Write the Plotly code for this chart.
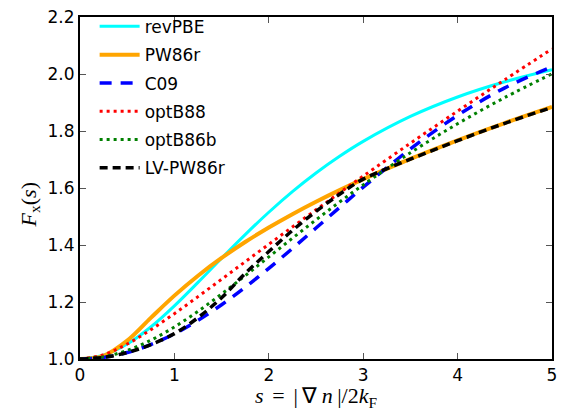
import plotly.graph_objects as go

# reduced gradient grid
s_vals = [0, 0.25, 0.5, 0.75, 1.0, 1.25, 1.5, 1.75, 2.0, 2.25, 2.5, 2.75, 3.0, 3.5, 4.0, 4.5, 5.0]

revpbe = [1.000, 1.0136, 1.0526, 1.1123, 1.1866, 1.2689, 1.3536, 1.4365, 1.5149, 1.5872,
          1.6527, 1.7114, 1.7637, 1.8510, 1.9192, 1.9726, 2.0148]
pw86r = [1.000, 1.0113, 1.0644, 1.1443, 1.2224, 1.2923, 1.3545, 1.4104, 1.4614, 1.5083,
         1.5519, 1.5927, 1.6312, 1.7024, 1.7675, 1.8279, 1.8845]
c09 = [1.000, 1.0057, 1.0227, 1.0506, 1.0885, 1.1355, 1.1904, 1.2517, 1.3181, 1.3879,
       1.4596, 1.5317, 1.6028, 1.7371, 1.8548, 1.9514, 2.0254]
optb88 = [1.000, 1.0151, 1.0526, 1.1026, 1.1591, 1.2188, 1.2798, 1.3413, 1.4025, 1.4633,
          1.5235, 1.5830, 1.6417, 1.7571, 1.8698, 1.9800, 2.0881]
optb86b = [1.000, 1.0077, 1.0301, 1.0658, 1.1124, 1.1674, 1.2282, 1.2924, 1.3581, 1.4237,
           1.4882, 1.5508, 1.6110, 1.7236, 1.8255, 1.9175, 2.0007]
lvpw86r = [1.000, 1.0057, 1.0227, 1.0506, 1.0890, 1.1450, 1.2150, 1.3000, 1.3770, 1.4510,
           1.5180, 1.5780, 1.6310, 1.7010, 1.7660, 1.8270, 1.8830]

names = ["revPBE", "PW86r", "C09", "optB88", "optB86b", "LV-PW86r"]
series = [revpbe, pw86r, c09, optb88, optb86b, lvpw86r]
colors = ["#00FFFF", "#FFA500", "#0000FF", "#FF0000", "#008000", "#000000"]
widths = [3, 4, 3.5, 3, 3, 3.5]
dashes = ["solid", "solid", "12px,9px", "3px,4px", "3px,4px", "8px,5px"]

fig = go.Figure()
for i, (nm, ys) in enumerate(zip(names, series)):
    fig.add_trace(go.Scatter(
        x=s_vals, y=ys, mode="lines", name=nm, legendgroup=nm,
        line=dict(color=colors[i], width=widths[i], dash=dashes[i], shape="spline", smoothing=1.0),
    ))

tick_font = dict(family="DejaVu Sans", size=17, color="black")
title_font = dict(family="Liberation Serif", size=22, color="black")

ts = "\u2009"
x_title = f"<i>s</i>{ts}{ts}={ts}{ts}|{ts}∇{ts}<i>n</i>{ts}|/2<i>k</i><sub>F</sub>"
y_title = "<i>F</i><sub>x</sub>(<i>s</i>)"

fig.update_layout(
    width=561, height=411,
    margin=dict(l=80, r=9, t=14, b=52),
    paper_bgcolor="white", plot_bgcolor="white",
    showlegend=True,
    legend=dict(x=0.031, y=1.024, xanchor="left", yanchor="top",
                font=dict(family="DejaVu Sans", size=17, color="black"),
                bgcolor="rgba(0,0,0,0)", borderwidth=0, tracegroupgap=3.2,
                itemwidth=40),
    xaxis=dict(range=[0, 5], tickvals=[0, 1, 2, 3, 4, 5], ticktext=["0", "1", "2", "3", "4", "5"],
               showline=True, linecolor="black", linewidth=2, mirror="ticks",
               ticks="inside", ticklen=6, tickwidth=1, tickcolor="#555",
               showgrid=False, zeroline=False, tickfont=tick_font, automargin=False,
               title=dict(text=x_title, font=title_font, standoff=3)),
    yaxis=dict(range=[1.0, 2.2], tickvals=[1.0, 1.2, 1.4, 1.6, 1.8, 2.0, 2.2],
               ticktext=["1.0", "1.2", "1.4", "1.6", "1.8", "2.0", "2.2"],
               showline=True, linecolor="black", linewidth=2, mirror="ticks",
               ticks="inside", ticklen=6, tickwidth=1, tickcolor="#555",
               showgrid=False, zeroline=False, tickfont=tick_font, automargin=False),
    annotations=[dict(text=y_title, xref="paper", yref="paper", x=-0.106, y=0.452,
                      xanchor="center", yanchor="middle", textangle=-90,
                      showarrow=False, font=title_font)],
)

fig.write_html("out.html", config={"displayModeBar": False},
               post_script="document.body.style.margin='0';document.body.style.overflow='hidden';")
